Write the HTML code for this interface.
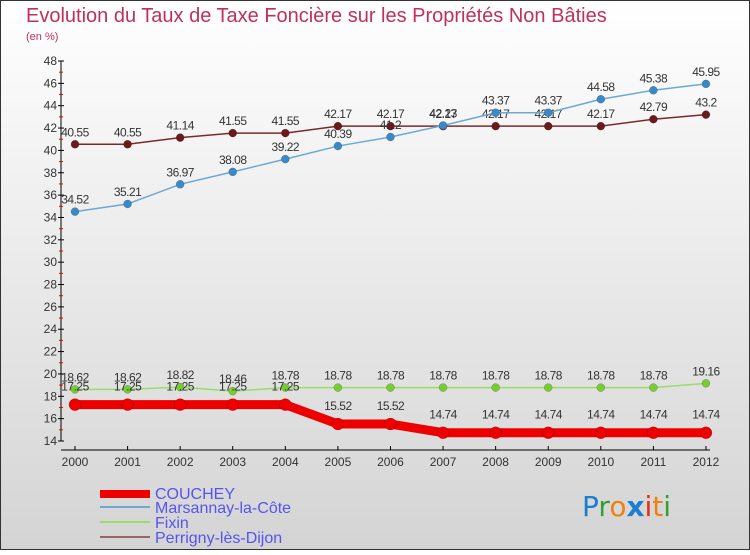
<!DOCTYPE html>
<html><head><meta charset="utf-8"><style>
html,body{margin:0;padding:0}
body{width:750px;height:550px;overflow:hidden;font-family:"Liberation Sans",sans-serif}
</style></head><body>
<svg id="c" width="750" height="550" xmlns="http://www.w3.org/2000/svg" font-family="Liberation Sans, sans-serif">
<defs><linearGradient id="bg" x1="0" y1="0" x2="0" y2="1"><stop offset="0" stop-color="#ffffff"/><stop offset="1" stop-color="#d4d4d4"/></linearGradient></defs>
<rect x="0.5" y="0.5" width="749" height="549" fill="url(#bg)" stroke="#333"/>
<text x="26" y="22" font-size="20" fill="#c0305a">Evolution du Taux de Taxe Foncière sur les Propriétés Non Bâties</text>
<text x="26" y="40" font-size="11" fill="#c0305a">(en %)</text>
<g id="axes"></g><g id="series"></g>
<g>
<line x1="100" y1="494" x2="150" y2="494" stroke="#ee0000" stroke-width="8"/>
<text x="155" y="499" font-size="16" fill="#5555ee">COUCHEY</text>
<line x1="100" y1="507" x2="150" y2="507" stroke="#6fa8d0" stroke-width="2"/>
<text x="155" y="513" font-size="16" fill="#5555ee">Marsannay-la-Côte</text>
<line x1="100" y1="522" x2="150" y2="522" stroke="#99dd66" stroke-width="2"/>
<text x="155" y="528" font-size="16" fill="#5555ee">Fixin</text>
<line x1="100" y1="537" x2="150" y2="537" stroke="#996666" stroke-width="2"/>
<text x="155" y="543" font-size="16" fill="#5555ee">Perrigny-lès-Dijon</text>
</g>
<g font-size="28" font-family="DejaVu Sans,sans-serif">
<text x="582" y="516"><tspan fill="#1a7fd0">P</tspan><tspan fill="#33a033">r</tspan><tspan fill="#f08010">o</tspan><tspan fill="#1a7fd0" font-weight="bold">x</tspan><tspan fill="#e03010">i</tspan><tspan fill="#f08010">t</tspan><tspan fill="#33a033">i</tspan></text>
</g>
</svg>
<script>
const years=["2000","2001","2002","2003","2004","2005","2006","2007","2008","2009","2010","2011","2012"];
const yTicks=[14,16,18,20,22,24,26,28,30,32,34,36,38,40,42,44,46,48];
const couchey=[17.25,17.25,17.25,17.25,17.25,15.52,15.52,14.74,14.74,14.74,14.74,14.74,14.74];
const marsannay=[34.52,35.21,36.97,38.08,39.22,40.39,41.2,42.23,43.37,43.37,44.58,45.38,45.95];
const fixin=[18.62,18.62,18.82,18.46,18.78,18.78,18.78,18.78,18.78,18.78,18.78,18.78,19.16];
const perrigny=[40.55,40.55,41.14,41.55,41.55,42.17,42.17,42.17,42.17,42.17,42.17,42.79,43.2];
const NS="http://www.w3.org/2000/svg";
const x=i=>75+i*52.58;
const y=v=>441-(v-14)*(380/34);
function mk(tag,attrs,parent,txt){const e=document.createElementNS(NS,tag);for(const k in attrs)e.setAttribute(k,attrs[k]);if(txt!==undefined)e.textContent=txt;parent.appendChild(e);return e;}
const ax=document.getElementById('axes');
let yl=mk('line',{x1:61,y1:y(48),x2:61,y2:441,stroke:'#000','stroke-width':1},ax);


let xl=mk('line',{x1:61,y1:450,x2:710,y2:450,stroke:'#000','stroke-width':1},ax);


yTicks.forEach((t,k)=>{
 mk('line',{x1:58,y1:y(t),x2:64,y2:y(t),stroke:'#000'},ax);
 if(k<yTicks.length-1) mk('line',{x1:59,y1:y(t+1),x2:63,y2:y(t+1),stroke:'#e00'},ax);
 const tl=mk('text',{x:57,y:y(t)+4,'font-size':12,fill:'#333','text-anchor':'end'},ax,String(t));
 
 
});
years.forEach((yr,i)=>{
 mk('line',{x1:x(i),y1:450,x2:x(i),y2:446,stroke:'#000'},ax);
 const tl=mk('text',{x:x(i),y:466,'font-size':12,fill:'#333','text-anchor':'middle'},ax,yr);
 
 
});
const sg=document.getElementById('series');
function series(name,vals,color,mcolor,lw,r,lab){
 const g=mk('g',{},sg);
 
 
 const ln=mk('polyline',{points:vals.map((v,i)=>x(i)+','+y(v)).join(' '),fill:'none',stroke:color,'stroke-width':lw,'stroke-linejoin':'round'},g);
 
 
 vals.forEach((v,i)=>{
  const c=mk('circle',{cx:x(i),cy:y(v),r:r,fill:mcolor,stroke:'rgba(0,0,0,0.3)','stroke-width':0.5},g);
  
  
  const t=mk('text',{x:x(i),y:y(v)-lab,'font-size':12,fill:'#333','text-anchor':'middle','letter-spacing':'-0.5'},g,String(v));
  
  
 });
}
series('perrigny',perrigny,'#7a2a2a','#6a1a1a',1.5,4,8);
series('marsannay',marsannay,'#6fa8d0','#3a8ac8',1.5,4,8);
series('fixin',fixin,'#99dd66','#77cc33',1.5,4,8);
series('couchey',couchey,'#ee0000','#ee0000',9,6,14);
</script>
</body></html>
